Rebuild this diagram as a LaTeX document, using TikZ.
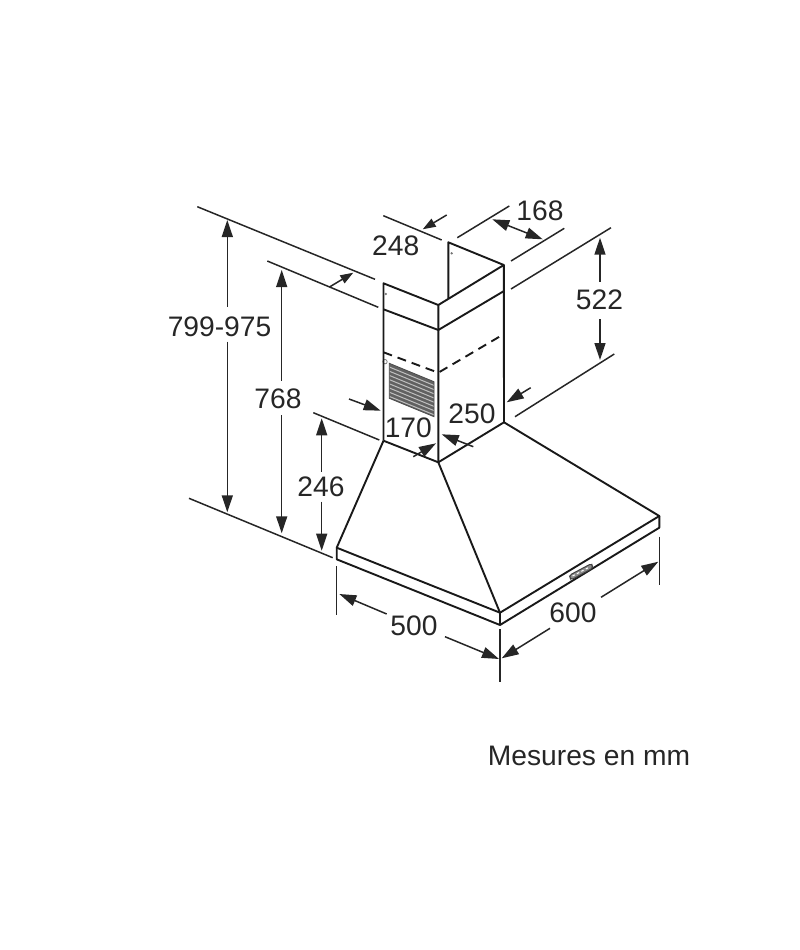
\documentclass[tikz,border=0pt]{standalone}
\usepackage{fontspec}
\setmainfont{Liberation Sans}
\usetikzlibrary{arrows.meta}
\tikzset{
 outline/.style={line width=1.9pt,black!90,line join=round},
 extline/.style={line width=1.5pt,black!85},
 dimline/.style={line width=1.5pt,black!85,-{Triangle[length=17pt,width=11pt]}},
 dimboth/.style={line width=1.5pt,black!85,{Triangle[length=17pt,width=11pt]}-{Triangle[length=17pt,width=11pt]}},
 smalltip/.style={line width=1.5pt,black!85,-{Triangle[length=13pt,width=9pt]}},
 lab/.style={font=\fontsize{28.2}{30}\selectfont,text=black!85,inner sep=0pt},
}
\begin{document}
\begin{tikzpicture}[x=1pt,y=-1pt]
\useasboundingbox (0,0) rectangle (800,950);
% chimney points
\coordinate (cTL) at (383.5,283.3);
\coordinate (cTC) at (438.3,305);
\coordinate (cTR) at (503.8,265);
\coordinate (bL) at (383.5,309.3);
\coordinate (bC) at (438.3,330);
\coordinate (bR) at (504,291);
\coordinate (cBL) at (383.5,440.7);
\coordinate (cBC) at (438.3,462.3);
\coordinate (cBR) at (504,422.3);
\coordinate (pT) at (448.3,242.3);
\coordinate (pB) at (448.3,298.7);
\coordinate (dL) at (383.5,352.3);
\coordinate (dC) at (438.3,372.7);
\coordinate (dR) at (504,334);
% hood points
\coordinate (hL) at (336.7,547.7);
\coordinate (hC) at (500,612.7);
\coordinate (hR) at (659.3,516);
\coordinate (lL) at (336.7,559.3);
\coordinate (lC) at (500,625);
\coordinate (lR) at (659.3,527.7);
% grille
\fill[black!62] (389.3,363.3) -- (434,381.7) -- (434,416.7) -- (389.3,398.3) -- cycle;
\foreach \i in {0,...,7}{
  \draw[white!75!black,line width=1pt] (389.3,{367+\i*4.2}) -- (434,{385.4+\i*4.2});
}
\draw[black!70,line width=.8pt] (389.3,363.3) -- (434,381.7) -- (434,416.7) -- (389.3,398.3) -- cycle;
\draw[black!55,line width=.7pt] (385,361.7) circle (2.2pt);
\fill[black!55] (451.7,253.3) circle (1.3pt);
\fill[black!55] (385.9,294) circle (1.3pt);
% chimney
\draw[outline] (cBL) -- (cTL) -- (cTC) -- (cBC);
\draw[outline] (cTC) -- (cTR) -- (cBR);
\draw[outline] (pB) -- (pT) -- (cTR);
\draw[outline] (bL) -- (bC) -- (bR);
\draw[outline] (cBL) -- (cBC) -- (cBR);
\draw[outline,dashed,dash pattern=on 9pt off 6pt] (dL) -- (dC) -- (dR);
% hood
\draw[outline] (cBL) -- (hL) -- (hC) -- (hR) -- (cBR);
\draw[outline] (cBC) -- (hC);
\draw[outline] (hL) -- (lL) -- (lC) -- (lR) -- (hR);
\draw[outline] (hC) -- (lC);
% control panel
\draw[black!75,fill=black!45,line width=1pt,rounded corners=2.5pt] (569.3,575.3) -- (591.5,563.5) -- (593,568) -- (571,580) -- cycle;
\draw[white,line width=1pt,dash pattern=on 2.5pt off 2.5pt] (572.5,576) -- (590,566.8);
% labels
\node[lab] (t799) at (219.5,327) {799-975};
\node[lab] (t768) at (278,399) {768};
\node[lab] (t246) at (321,487) {246};
\node[lab] (t248) at (395.7,246) {248};
\node[lab] (t168) at (540,211) {168};
\node[lab] (t522) at (599.5,299.5) {522};
\node[lab] (t250) at (472,414) {250};
\node[lab] (t170) at (408.3,427.5) {170};
\node[lab] (t500) at (414,626) {500};
\node[lab] (t600) at (573,613) {600};
\node[lab] (tmm) at (589,756) {Mesures en mm};
% extension lines
\coordinate (e1a) at (197.3,206.7); \coordinate (e1b) at (375,279.3);
\coordinate (e2a) at (189,498.3);   \coordinate (e2b) at (332.7,557.7);
\coordinate (e3a) at (267.3,261);   \coordinate (e3b) at (378.3,307.3);
\coordinate (e4a) at (313.3,412.7); \coordinate (e4b) at (379.3,440);
\coordinate (e5a) at (383.3,215.7); \coordinate (e5b) at (441.7,240);
\coordinate (e6a) at (457.3,237.7); \coordinate (e6b) at (509.3,206);
\coordinate (e7a) at (511,261);     \coordinate (e7b) at (564.3,228.3);
\coordinate (e8a) at (511,289);     \coordinate (e8b) at (611,227.7);
\coordinate (e9a) at (515,416.7);   \coordinate (e9b) at (614.3,354);
\coordinate (e10a) at (336.7,566);  \coordinate (e10b) at (336.7,615);
\coordinate (e11a) at (500,629);    \coordinate (e11b) at (500,681.7);
\coordinate (e12a) at (659.3,536.7);\coordinate (e12b) at (659.3,585);
\foreach \n in {1,...,12}{\draw[extline] (e\n a) -- (e\n b);}
% dimension arrows
\coordinate (h1a) at (227.3,306.7); \coordinate (h1b) at (227.3,220);
\coordinate (h2a) at (227.3,341.7); \coordinate (h2b) at (227.3,512.3);
\draw[dimline] (h1a) -- (h1b); \draw[dimline] (h2a) -- (h2b);
\coordinate (h3a) at (281.7,380.7); \coordinate (h3b) at (281.7,270);
\coordinate (h4a) at (281.7,415);   \coordinate (h4b) at (281.7,533.3);
\draw[dimline] (h3a) -- (h3b); \draw[dimline] (h4a) -- (h4b);
\coordinate (h5a) at (321.7,471.7); \coordinate (h5b) at (321.7,418.3);
\coordinate (h6a) at (321.7,501.7); \coordinate (h6b) at (321.7,550.7);
\draw[dimline] (h5a) -- (h5b); \draw[dimline] (h6a) -- (h6b);
\coordinate (h7a) at (600,281.7);   \coordinate (h7b) at (600,237.7);
\coordinate (h8a) at (600,319);     \coordinate (h8b) at (600,360);
\draw[dimline] (h7a) -- (h7b); \draw[dimline] (h8a) -- (h8b);
\coordinate (a1a) at (330,286.7);   \coordinate (a1b) at (353.3,272.7);
\draw[smalltip] (a1a) -- (a1b);
\coordinate (a2a) at (446.7,215);   \coordinate (a2b) at (422.7,229.3);
\draw[smalltip] (a2a) -- (a2b);
\coordinate (a3a) at (492.3,219.3); \coordinate (a3b) at (542.7,239.3);
\draw[dimboth] (a3a) -- (a3b);
\coordinate (a4a) at (530.7,387.7); \coordinate (a4b) at (506.7,402.3);
\draw[dimline] (a4a) -- (a4b);
\coordinate (a5a) at (473.3,446.7); \coordinate (a5b) at (441.7,434.3);
\draw[dimline] (a5a) -- (a5b);
\coordinate (a6a) at (349,399);     \coordinate (a6b) at (380.7,410.7);
\draw[dimline] (a6a) -- (a6b);
\coordinate (a7a) at (413.3,456.7); \coordinate (a7b) at (436,443.3);
\draw[dimline] (a7a) -- (a7b);
\coordinate (a8a) at (386.7,614);   \coordinate (a8b) at (339.3,594);
\draw[dimline] (a8a) -- (a8b);
\coordinate (a9a) at (445,636.7);   \coordinate (a9b) at (499,659);
\draw[dimline] (a9a) -- (a9b);
\coordinate (a10a) at (550,628.3);  \coordinate (a10b) at (501.7,658.3);
\draw[dimline] (a10a) -- (a10b);
\coordinate (a11a) at (601,597.3);  \coordinate (a11b) at (658.3,561.7);
\draw[dimline] (a11a) -- (a11b);
\end{tikzpicture}
\end{document}
